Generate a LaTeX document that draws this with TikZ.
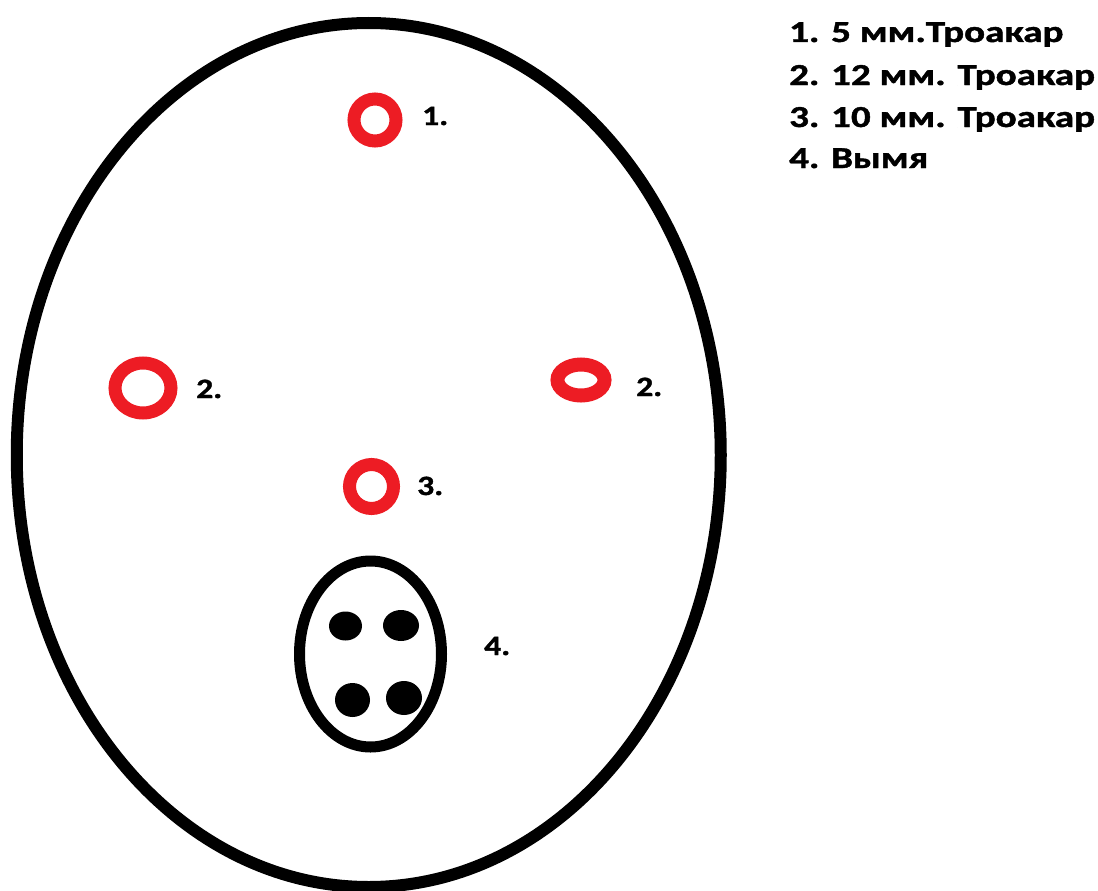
\documentclass[tikz,border=0pt]{standalone}
\usepackage{fontspec}
\setmainfont{Carlito}[BoldFeatures={FakeBold=1.2}]
\definecolor{pred}{HTML}{ED1C24}
\newcommand\widetxt[2]{\scalebox{#1}[1]{#2}}
\begin{document}
\begin{tikzpicture}[x=1pt,y=-1pt,
  port/.style={draw=pred,line width=13pt},
  lbl/.style={anchor=base west,inner sep=0pt,font=\fontsize{28}{32}\selectfont\bfseries},
  leg/.style={anchor=base west,inner sep=0pt,font=\fontsize{30.5}{36}\selectfont\bfseries},
  teat/.style={fill=black}]
\useasboundingbox (0,0) rectangle (1098,891);
% body
\draw[line width=12pt] (368.75,455) ellipse [x radius=352, y radius=432];
% udder
\draw[line width=11pt] (370.5,654) ellipse [x radius=71, y radius=93];
\fill[teat] (345.5,626) ellipse [x radius=16.5, y radius=14.5];
\fill[teat] (401,625.5) ellipse [x radius=18, y radius=15.5];
\fill[teat] (352.5,700) ellipse [x radius=17.5, y radius=17];
\fill[teat] (404,698) ellipse [x radius=18, y radius=17];
% ports
\draw[port] (375,120) circle [radius=21];
\draw[port] (143,388) ellipse [x radius=28, y radius=25];
\draw[port,line width=14pt] (581,380) ellipse [x radius=23.5, y radius=15.5];
\draw[port] (371.5,486.5) circle [radius=22];
% labels
\node[lbl] (l1) at (422,125) {\widetxt{1.2}{1.}};
\node[lbl] (l2a) at (196,398) {\widetxt{1.2}{2.}};
\node[lbl] (l2b) at (636,396) {\widetxt{1.2}{2.}};
\node[lbl] (l3) at (417,495) {\widetxt{1.2}{3.}};
\node[lbl] (l4) at (484,655) {\widetxt{1.2}{4.}};
% legend
\node[leg] (g1) at (789,42) {\widetxt{1.28}{1. 5 мм.Троакар}};
\node[leg] (g2) at (789,85) {\widetxt{1.28}{2. 12 мм. Троакар}};
\node[leg] (g3) at (789,127) {\widetxt{1.28}{3. 10 мм. Троакар}};
\node[leg] (g4) at (789,168) {\widetxt{1.28}{4. Вымя}};
\end{tikzpicture}
\end{document}
